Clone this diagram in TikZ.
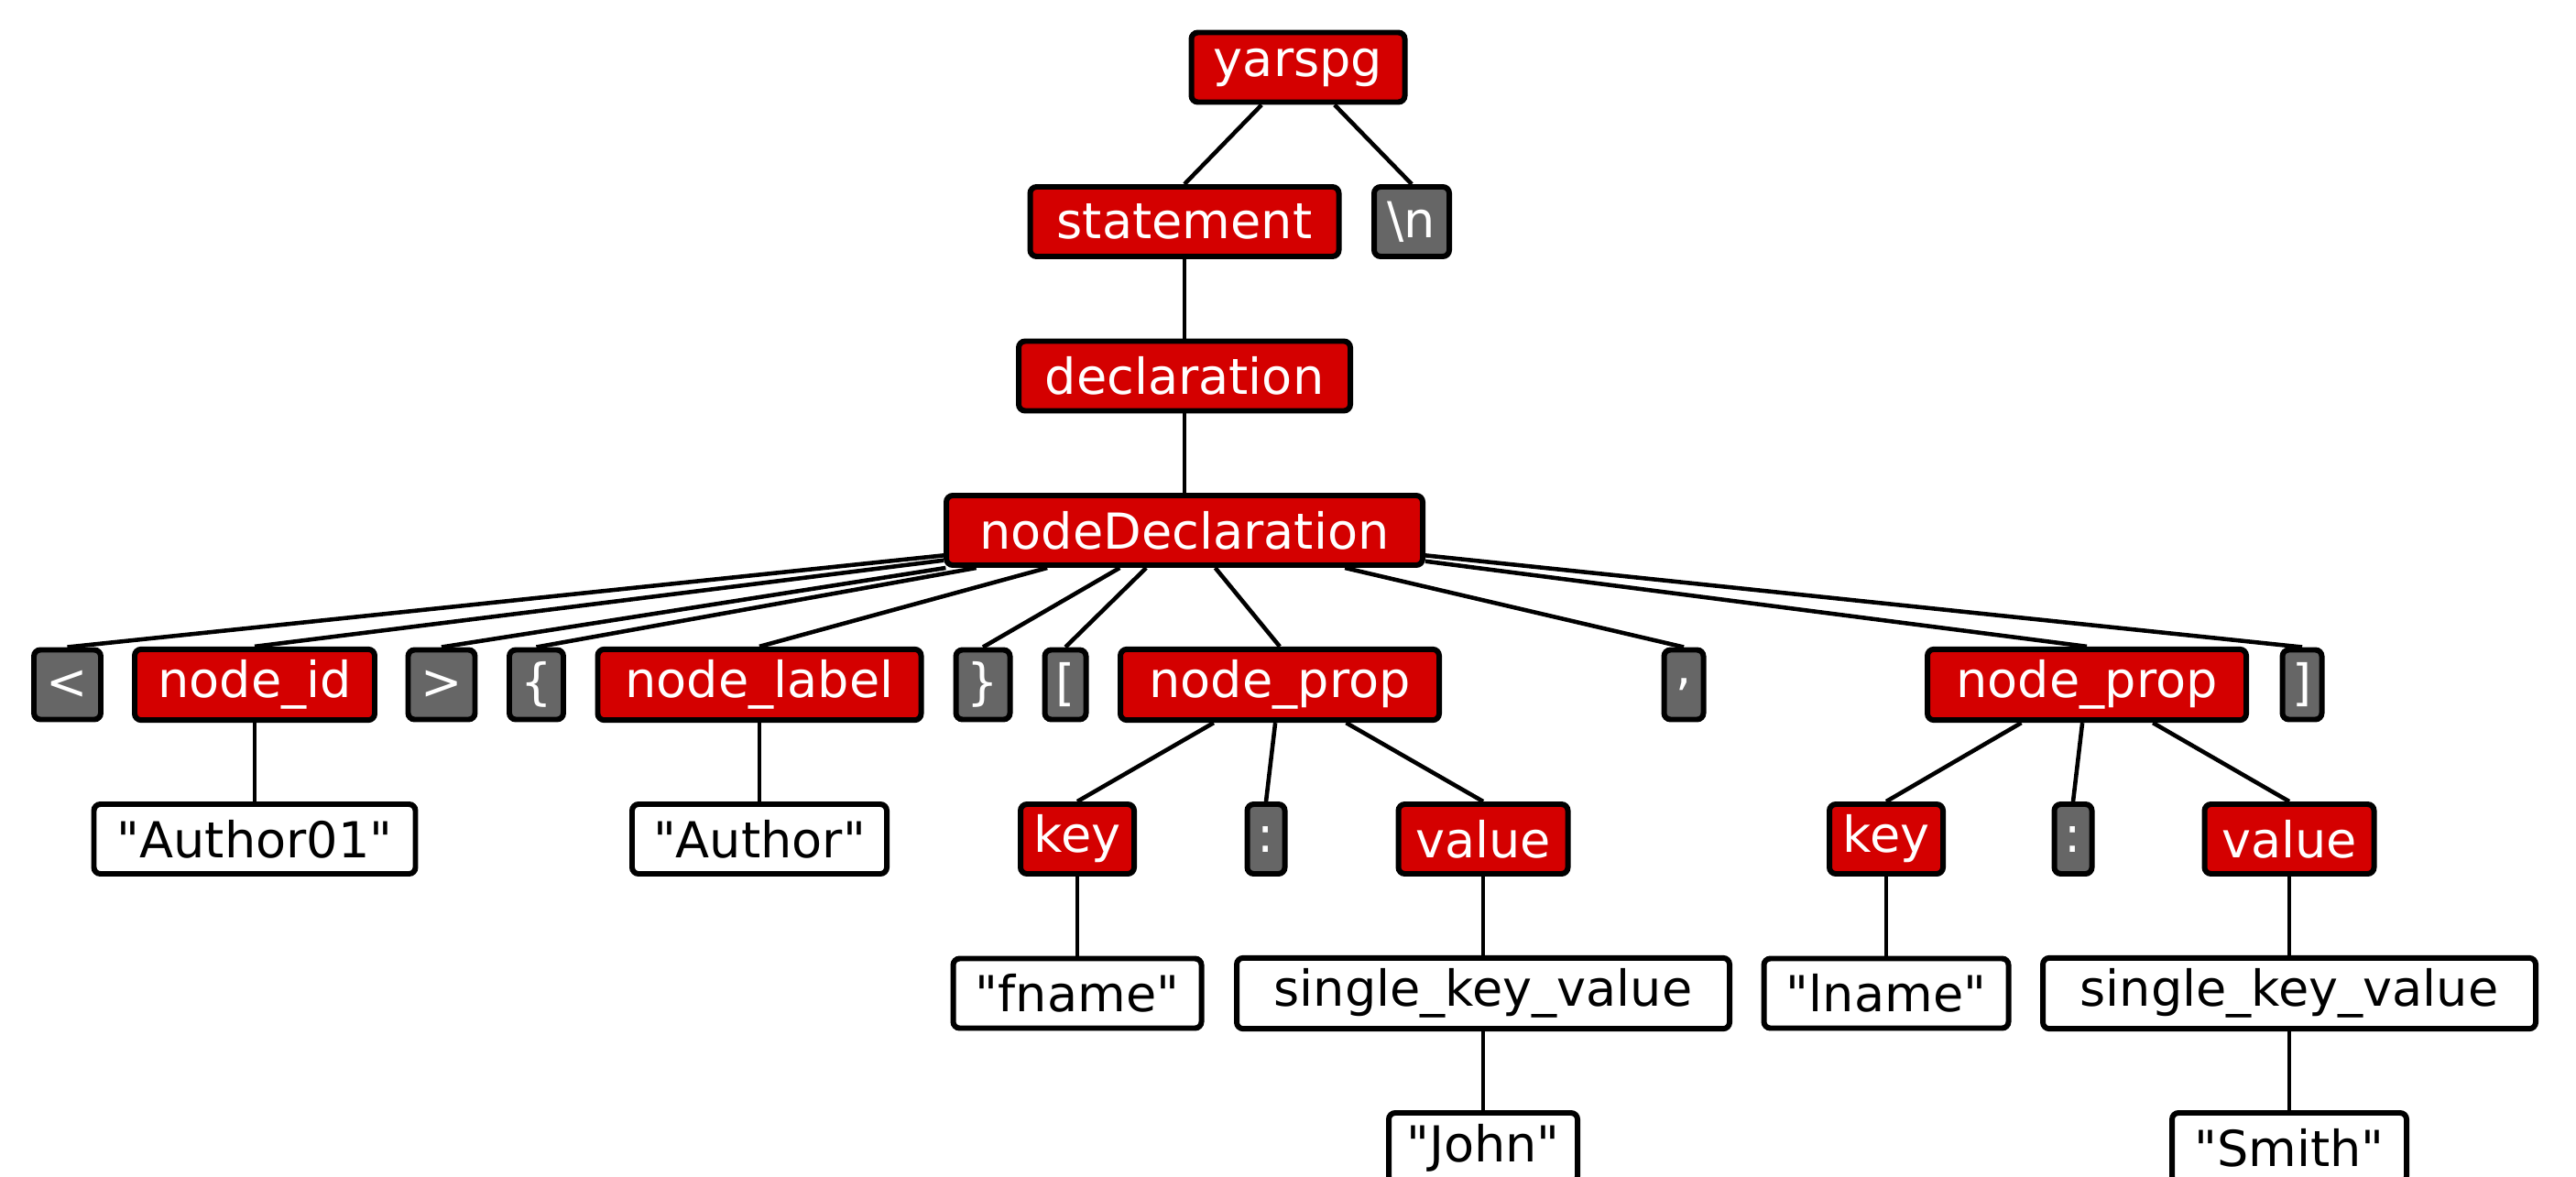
\documentclass[tikz,border=0pt]{standalone}
\usepackage{fontspec}
\setmainfont{DejaVu Sans}[Ligatures=TeXOff]
\usepackage{xcolor}
\usetikzlibrary{positioning}
\definecolor{ruleRed}{HTML}{D40000}
\definecolor{tokGray}{HTML}{666666}

\begin{document}
\begin{tikzpicture}[
  every node/.style={font=\fontsize{15.4}{18}\selectfont},
  rulebox/.style={draw=black, line width=1.7pt, fill=ruleRed, text=white,
             rounded corners=2pt, inner xsep=0pt, minimum height=0.76cm},
  tokbox/.style={draw=black, line width=1.7pt, fill=tokGray, text=white,
             rounded corners=2pt, inner xsep=0pt, minimum height=0.76cm},
  litbox/.style={draw=black, line width=1.7pt, fill=white, text=black,
             rounded corners=2pt, inner xsep=0pt, minimum height=0.76cm},
  branch/.style={line width=1.3pt},
]
\useasboundingbox (0,0) rectangle (28.12,-12.85);

% Top of the tree
\node[rulebox, minimum width=2.33cm] (yarspg) at (14.17, -0.735) {yarspg};
\node[rulebox, minimum width=3.37cm] (stmt) at (12.93, -2.42) {statement};
\node[tokbox, minimum width=0.82cm] (nl) at (15.41, -2.42) {\textbackslash n};
\node[rulebox, minimum width=3.62cm] (decl) at (12.93, -4.105) {declaration};
\node[rulebox, minimum width=5.20cm] (ndecl) at (12.93, -5.79) {nodeDeclaration};

% Children of nodeDeclaration
\node[tokbox, minimum width=0.73cm] (lt) at (0.735, -7.475) {<};
\node[rulebox, minimum width=2.62cm] (nid) at (2.78, -7.475) {node\_id};
\node[tokbox, minimum width=0.73cm] (gt) at (4.82, -7.475) {>};
\node[tokbox, minimum width=0.59cm] (lbrace) at (5.855, -7.475) {\{};
\node[rulebox, minimum width=3.53cm] (nlabel) at (8.29, -7.475) {node\_label};
\node[tokbox, minimum width=0.59cm] (rbrace) at (10.73, -7.475) {\}};
\node[tokbox, minimum width=0.45cm] (lbrack) at (11.63, -7.475) {[};
\node[rulebox, minimum width=3.48cm] (prop1) at (13.97, -7.475) {node\_prop};
\node[tokbox, minimum width=0.43cm] (comma) at (18.38, -7.475) {,};
\node[rulebox, minimum width=3.48cm] (prop2) at (22.78, -7.475) {node\_prop};
\node[tokbox, minimum width=0.43cm] (rbrack) at (25.13, -7.475) {]};

% Row below
\node[litbox, minimum width=3.51cm] (idstr) at (2.78, -9.16) {"Author01"};
\node[litbox, minimum width=2.78cm] (labelstr) at (8.29, -9.16) {"Author"};
\node[rulebox, minimum width=1.24cm] (key1) at (11.76, -9.16) {key};
\node[tokbox, minimum width=0.41cm] (colon1) at (13.82, -9.16) {:};
\node[rulebox, minimum width=1.85cm] (val1) at (16.19, -9.16) {value};
\node[rulebox, minimum width=1.24cm] (key2) at (20.59, -9.16) {key};
\node[tokbox, minimum width=0.41cm] (colon2) at (22.63, -9.16) {:};
\node[rulebox, minimum width=1.85cm] (val2) at (24.99, -9.16) {value};

% Keys and values
\node[litbox, minimum width=2.71cm] (fname) at (11.76, -10.845) {"fname"};
\node[litbox, minimum width=5.38cm] (skv1) at (16.19, -10.845) {single\_key\_value};
\node[litbox, minimum width=2.67cm] (lname) at (20.59, -10.845) {"lname"};
\node[litbox, minimum width=5.38cm] (skv2) at (24.99, -10.845) {single\_key\_value};
\node[litbox, minimum width=2.06cm] (john) at (16.19, -12.53) {"John"};
\node[litbox, minimum width=2.56cm] (smith) at (24.99, -12.53) {"Smith"};

% Connectors
\draw[branch] (yarspg) -- (stmt.north);
\draw[branch] (yarspg) -- (nl.north);
\draw[branch] (stmt) -- (decl.north);
\draw[branch] (decl) -- (ndecl.north);

\draw[branch] (ndecl) -- (lt.north);
\draw[branch] (ndecl) -- (nid.north);
\draw[branch] (ndecl) -- (gt.north);
\draw[branch] (ndecl) -- (lbrace.north);
\draw[branch] (ndecl) -- (nlabel.north);
\draw[branch] (ndecl) -- (rbrace.north);
\draw[branch] (ndecl) -- (lbrack.north);
\draw[branch] (ndecl) -- (prop1.north);
\draw[branch] (ndecl) -- (comma.north);
\draw[branch] (ndecl) -- (prop2.north);
\draw[branch] (ndecl) -- (rbrack.north);

\draw[branch] (nid) -- (idstr.north);
\draw[branch] (nlabel) -- (labelstr.north);

\draw[branch] (prop1) -- (key1.north);
\draw[branch] (prop1) -- (colon1.north);
\draw[branch] (prop1) -- (val1.north);
\draw[branch] (prop2) -- (key2.north);
\draw[branch] (prop2) -- (colon2.north);
\draw[branch] (prop2) -- (val2.north);

\draw[branch] (key1) -- (fname.north);
\draw[branch] (val1) -- (skv1.north);
\draw[branch] (key2) -- (lname.north);
\draw[branch] (val2) -- (skv2.north);
\draw[branch] (skv1) -- (john.north);
\draw[branch] (skv2) -- (smith.north);

\end{tikzpicture}
\end{document}
